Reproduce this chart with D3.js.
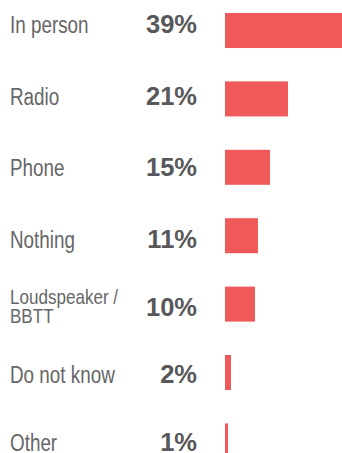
<!DOCTYPE html>
<html>
<head>
<meta charset="utf-8">
<script src="https://cdn.jsdelivr.net/npm/d3@7"></script>
<style>
  html, body { margin: 0; padding: 0; background: #fff; }
  svg { display: block; }
</style>
</head>
<body>
<svg id="chart" width="342" height="453"></svg>
<script>
const categories = ["In person", "Radio", "Phone", "Nothing", "Loudspeaker /\nBBTT", "Do not know", "Other"];
const values = [39, 21, 15, 11, 10, 2, 1];
const valueLabels = ["39%", "21%", "15%", "11%", "10%", "2%", "1%"];

const svg = d3.select("#chart");
const idx = d3.range(categories.length);

const x = d3.scaleLinear().domain([0, 39]).range([225, 342]);
const y = d3.scaleBand().domain(idx).range([13, 458.4]).paddingInner(0.488).paddingOuter(0);
const yText = d3.scaleLinear().domain([0, 3, 6]).range([33, 248, 451]);

svg.selectAll("rect.bar")
  .data(idx)
  .join("rect")
  .attr("class", "bar")
  .attr("x", x(0))
  .attr("y", i => y(i))
  .attr("width", i => x(values[i]) - x(0))
  .attr("height", y.bandwidth())
  .attr("fill", "#ef5959");

svg.selectAll("text.val")
  .data(idx)
  .join("text")
  .attr("class", "val")
  .attr("x", 197)
  .attr("y", i => yText(i))
  .attr("text-anchor", "end")
  .attr("font-family", "'Liberation Sans', Arial, sans-serif")
  .attr("font-weight", "bold")
  .attr("font-size", 25.5)
  .attr("fill", "#58585a")
  .text(i => valueLabels[i]);

const labelGroups = svg.selectAll("g.lab")
  .data(idx)
  .join("g")
  .attr("class", "lab")
  .attr("transform", i => `translate(10,${yText(i)}) scale(0.82,1)`);

labelGroups.each(function(i) {
  const lines = categories[i].split("\n");
  const multi = lines.length > 1;
  const lh = 19;
  const off = multi ? -12 : 0;
  const t = d3.select(this).append("text")
    .attr("x", 0)
    .attr("y", 0)
    .attr("font-family", "'Liberation Sans', Arial, sans-serif")
    .attr("font-size", multi ? 20.8 : 23)
    .attr("fill", "#666666");
  lines.forEach((ln, k) => {
    t.append("tspan")
      .attr("x", 0)
      .attr("y", off + k * lh)
      .text(ln);
  });
});
</script>
</body>
</html>
